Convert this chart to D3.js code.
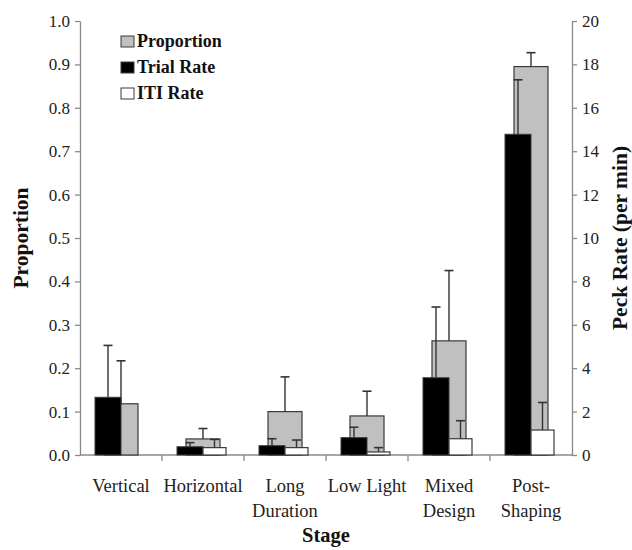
<!DOCTYPE html>
<html>
<head>
<meta charset="utf-8">
<script src="https://d3js.org/d3.v7.min.js"></script>
<style>
  body { margin: 0; background: #fff; }
  text { font-family: "Liberation Serif", "Times New Roman", serif; }
</style>
</head>
<body>
<div id="chart"></div>
<script>

// stages + values
const stages = ["Vertical", "Horizontal", "Long Duration", "Low Light", "Mixed Design", "Post-Shaping"];
const stageLines = [["Vertical"], ["Horizontal"], ["Long", "Duration"], ["Low Light"], ["Mixed", "Design"], ["Post-", "Shaping"]];

const proportion = [0.118, 0.037, 0.100, 0.090, 0.263, 0.895];
const proportionErr = [0.099, 0.024, 0.080, 0.057, 0.162, 0.032];

const trialRate = [2.66, 0.38, 0.43, 0.80, 3.56, 14.78];
const trialErr = [2.39, 0.19, 0.32, 0.48, 3.26, 2.51];

const itiRate = [null, 0.34, 0.34, 0.14, 0.75, 1.15];
const itiErr = [null, 0.38, 0.35, 0.20, 0.83, 1.27];

const propTicks = [0, 0.1, 0.2, 0.3, 0.4, 0.5, 0.6, 0.7, 0.8, 0.9, 1.0];
const rateTicks = [0, 2, 4, 6, 8, 10, 12, 14, 16, 18, 20];

const width = 632, height = 550;
const margin = {top: 21, right: 60, bottom: 95, left: 80};

const svg = d3.select("#chart")
    .append("svg")
    .attr("width", width)
    .attr("height", height);

const xScale = d3.scaleBand()
    .domain(stages)
    .range([margin.left, width - margin.right])
    .padding(0);

const yProp = d3.scaleLinear()
    .domain([0, 1])
    .range([height - margin.bottom, margin.top]);

const yRate = d3.scaleLinear()
    .domain([0, 20])
    .range([height - margin.bottom, margin.top]);

const axisColor = "#8a8a8a";
const barStroke = "#3a3a3a";
const greyW = 34, blackW = 26, whiteW = 23, capW = 9;

// axes
const leftAxis = svg.append("g")
    .attr("transform", `translate(${margin.left},0)`)
    .call(d3.axisLeft(yProp).tickValues(propTicks).tickFormat(d3.format(".1f")).tickSize(5).tickSizeOuter(0));

const rightAxis = svg.append("g")
    .attr("transform", `translate(${width - margin.right},0)`)
    .call(d3.axisRight(yRate).tickValues(rateTicks).tickFormat(d3.format("d")).tickSize(5).tickSizeOuter(0));

[leftAxis, rightAxis].forEach(g => {
    g.select(".domain").attr("stroke", axisColor).attr("stroke-width", 1.3);
    g.selectAll(".tick line").attr("stroke", axisColor).attr("stroke-width", 1.3);
    g.selectAll(".tick text")
        .attr("font-family", "Liberation Serif")
        .attr("font-size", 17)
        .attr("fill", "#222");
});
leftAxis.selectAll(".tick text").attr("x", -10);
rightAxis.selectAll(".tick text").attr("x", 10);

// x axis: baseline plus boundary ticks
const baseY = yProp(0);
svg.append("line")
    .attr("x1", margin.left).attr("x2", width - margin.right)
    .attr("y1", baseY).attr("y2", baseY)
    .attr("stroke", axisColor).attr("stroke-width", 1.3);

svg.selectAll(".xtick")
    .data(stages.slice(1))
    .enter()
    .append("line")
    .attr("class", "xtick")
    .attr("x1", d => xScale(d)).attr("x2", d => xScale(d))
    .attr("y1", baseY).attr("y2", baseY + 6)
    .attr("stroke", axisColor).attr("stroke-width", 1.3);

const cx = d => xScale(d) + xScale.bandwidth() / 2;

// error bar helper
function errorBars(cls, xs, tops, ends) {
    const g = svg.append("g").attr("class", cls);
    stages.forEach((s, i) => {
        if (tops[i] == null) return;
        g.append("line")
            .attr("x1", xs(s)).attr("x2", xs(s))
            .attr("y1", tops[i]).attr("y2", ends[i])
            .attr("stroke", "#333").attr("stroke-width", 1.4);
        g.append("line")
            .attr("x1", xs(s) - capW / 2).attr("x2", xs(s) + capW / 2)
            .attr("y1", ends[i]).attr("y2", ends[i])
            .attr("stroke", "#333").attr("stroke-width", 1.6);
    });
}

// proportion bars (behind)
svg.selectAll(".prop")
    .data(stages)
    .enter()
    .append("rect")
    .attr("class", "prop")
    .attr("x", d => cx(d) - greyW / 2)
    .attr("y", (d, i) => yProp(proportion[i]))
    .attr("width", greyW)
    .attr("height", (d, i) => baseY - yProp(proportion[i]))
    .attr("fill", "#c0c0c0")
    .attr("stroke", barStroke)
    .attr("stroke-width", 1.2);

errorBars("prop-err", cx,
    proportion.map(v => yProp(v)),
    proportion.map((v, i) => yProp(v + proportionErr[i])));

// trial rate bars
svg.selectAll(".trial")
    .data(stages)
    .enter()
    .append("rect")
    .attr("class", "trial")
    .attr("x", d => cx(d) - blackW)
    .attr("y", (d, i) => yRate(trialRate[i]))
    .attr("width", blackW)
    .attr("height", (d, i) => baseY - yRate(trialRate[i]))
    .attr("fill", "#000")
    .attr("stroke", barStroke)
    .attr("stroke-width", 1);

errorBars("trial-err", d => cx(d) - blackW / 2,
    trialRate.map(v => yRate(v)),
    trialRate.map((v, i) => yRate(v + trialErr[i])));

// ITI rate bars
const itiStages = stages.filter((d, i) => itiRate[i] != null);
svg.selectAll(".iti")
    .data(itiStages)
    .enter()
    .append("rect")
    .attr("class", "iti")
    .attr("x", d => cx(d))
    .attr("y", d => yRate(itiRate[stages.indexOf(d)]))
    .attr("width", whiteW)
    .attr("height", d => baseY - yRate(itiRate[stages.indexOf(d)]))
    .attr("fill", "#fff")
    .attr("stroke", barStroke)
    .attr("stroke-width", 1.2);

errorBars("iti-err", d => cx(d) + whiteW / 2,
    itiRate.map(v => v == null ? null : yRate(v)),
    itiRate.map((v, i) => v == null ? null : yRate(v + itiErr[i])));

// category labels
const labels = svg.selectAll(".cat")
    .data(stages)
    .enter()
    .append("text")
    .attr("class", "cat")
    .attr("text-anchor", "middle")
    .attr("font-size", 18.5)
    .attr("fill", "#222");

labels.each(function(d, i) {
    d3.select(this).selectAll("tspan")
        .data(stageLines[i])
        .enter()
        .append("tspan")
        .attr("x", cx(d))
        .attr("y", (t, j) => 492 + j * 25)
        .text(t => t);
});

// axis titles
svg.append("text")
    .attr("x", (margin.left + width - margin.right) / 2)
    .attr("y", 542)
    .attr("text-anchor", "middle")
    .attr("font-size", 20.5)
    .attr("font-weight", "bold")
    .attr("fill", "#111")
    .text("Stage");

svg.append("text")
    .attr("transform", `translate(28,${(margin.top + baseY) / 2}) rotate(-90)`)
    .attr("text-anchor", "middle")
    .attr("font-size", 21.5)
    .attr("font-weight", "bold")
    .attr("fill", "#111")
    .text("Proportion");

svg.append("text")
    .attr("transform", `translate(627,${(margin.top + baseY) / 2}) rotate(-90)`)
    .attr("text-anchor", "middle")
    .attr("font-size", 21.5)
    .attr("font-weight", "bold")
    .attr("fill", "#111")
    .text("Peck Rate (per min)");

// legend
const legendItems = ["Proportion", "Trial Rate", "ITI Rate"];
const legendFill = ["#c0c0c0", "#000", "#fff"];

const legend = svg.selectAll(".legend")
    .data(legendItems)
    .enter()
    .append("g")
    .attr("class", "legend")
    .attr("transform", (d, i) => `translate(121,${36 + i * 26})`);

legend.append("rect")
    .attr("width", 13)
    .attr("height", 11)
    .attr("fill", (d, i) => legendFill[i])
    .attr("stroke", barStroke)
    .attr("stroke-width", 1);

legend.append("text")
    .attr("x", 16)
    .attr("y", 11)
    .attr("font-size", 18)
    .attr("font-weight", "bold")
    .attr("fill", "#111")
    .text(d => d);

</script>
</body>
</html>
